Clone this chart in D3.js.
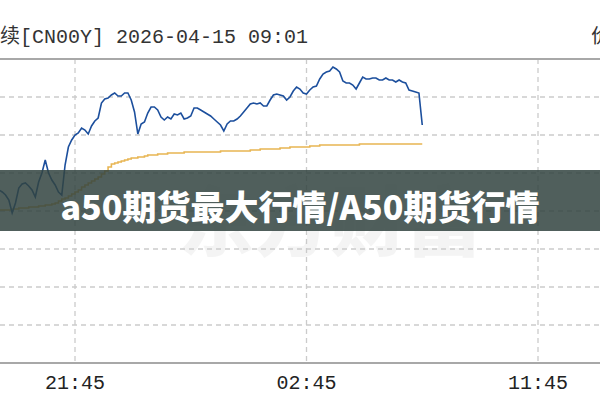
<!DOCTYPE html>
<html>
<head>
<meta charset="utf-8">
<script src="https://cdn.jsdelivr.net/npm/d3@7"></script>
<style>
  html, body { margin: 0; padding: 0; background: #fff; }
  svg { display: block; }
</style>
</head>
<body>
<div id="chart"></div>
<script>
const timeTicks = [23, 93, 163];
const timeLabels = ["21:45", "02:45", "11:45"];

// price line, one sample per index
const priceSeries = [
  14869, 14867, 14864, 14859, 14846, 14856, 14871, 14875, 14876, 14873,
  14869, 14862, 14877, 14886, 14899, 14886, 14879, 14874, 14867, 14864,
  14894, 14912, 14919, 14924, 14926, 14931, 14929, 14925, 14933, 14938,
  14941, 14956, 14960, 14961, 14964, 14966, 14963, 14963, 14966, 14966,
  14959, 14947, 14925, 14935, 14937, 14946, 14952, 14952, 14949, 14942,
  14939, 14942, 14940, 14945, 14944, 14946, 14940, 14941, 14943, 14951,
  14951, 14949, 14947, 14945, 14943, 14940, 14937, 14934, 14928, 14935,
  14938, 14938, 14940, 14943, 14947, 14951, 14955, 14956, 14955, 14956,
  14953, 14953, 14959, 14964, 14965, 14964, 14963, 14959, 14962, 14968,
  14972, 14970, 14966, 14965, 14969, 14972, 14973, 14980, 14985, 14987,
  14988, 14992, 14990, 14987, 14978, 14976, 14976, 14974, 14970, 14976,
  14982, 14980, 14980, 14981, 14981, 14979, 14979, 14981, 14979, 14979,
  14977, 14979, 14977, 14976, 14969, 14968, 14967, 14966, 14934
];

// average price line
const avgSeries = [
  14849, 14849, 14849, 14849, 14850, 14850, 14851, 14851, 14851, 14852,
  14852, 14852, 14853, 14853, 14854, 14854, 14855, 14856, 14858, 14860,
  14861, 14863, 14865, 14867, 14869, 14872, 14874, 14876, 14878, 14880,
  14882, 14885, 14888, 14892, 14895, 14896, 14897, 14898, 14899, 14900,
  14901, 14901, 14902, 14902, 14903, 14904, 14904, 14904, 14905, 14905,
  14905, 14906, 14906, 14906, 14906, 14906, 14907, 14907, 14907, 14907,
  14907, 14907, 14907, 14907, 14907, 14907, 14907, 14908, 14908, 14908,
  14908, 14908, 14908, 14908, 14908, 14908, 14909, 14909, 14909, 14910,
  14910, 14910, 14910, 14910, 14910, 14911, 14911, 14911, 14912, 14912,
  14912, 14912, 14912, 14912, 14913, 14913, 14913, 14914, 14914, 14914,
  14914, 14914, 14914, 14914, 14914, 14914, 14914, 14914, 14914, 14915,
  14915, 14915, 14915, 14915, 14915, 14915, 14915, 14915, 14915, 14915,
  14915, 14915, 14915, 14915, 14915, 14915, 14915, 14915, 14915
];

const priceDomain = [14696, 15000];
const priceGrid = d3.range(14734, 15000, 38);

const titleText = "续[CN00Y] 2026-04-15 09:01";
const bannerText = "a50期货最大行情/A50期货行情";

const width = 600, height = 400;
const plot = { top: 59, bottom: 363, left: 0, right: 600 };

const svg = d3.select("#chart").append("svg")
  .attr("width", width)
  .attr("height", height);

const x = d3.scaleLinear()
  .domain([timeTicks[0], timeTicks[2]])
  .range([75, 538]);

const y = d3.scaleLinear()
  .domain(priceDomain)
  .range([plot.bottom, plot.top]);

svg.append("clipPath").attr("id", "plotclip")
  .append("rect")
  .attr("x", plot.left).attr("y", plot.top)
  .attr("width", plot.right - plot.left)
  .attr("height", plot.bottom - plot.top);

// title
svg.append("text")
  .attr("x", 0)
  .attr("y", 43)
  .attr("font-family", "'Liberation Mono', 'Noto Sans CJK SC', monospace")
  .attr("font-size", 20)
  .attr("fill", "#333")
  .text(titleText);

svg.append("text")
  .attr("x", 591)
  .attr("y", 43)
  .attr("font-family", "'Noto Sans CJK SC'")
  .attr("font-size", 20)
  .attr("fill", "#333")
  .text("价");

// watermark
svg.append("text")
  .attr("x", 330)
  .attr("y", 250)
  .attr("text-anchor", "middle")
  .attr("font-family", "'Noto Sans CJK SC'")
  .attr("font-weight", 900)
  .attr("font-size", 76)
  .attr("fill", "#000")
  .attr("opacity", 0.04)
  .text("东方财富");

// grid
const grid = svg.append("g")
  .attr("stroke", "#cbcbcb")
  .attr("stroke-width", 1.3)
  .attr("stroke-dasharray", "5,4");

grid.selectAll("line.h")
  .data(priceGrid)
  .join("line")
  .attr("class", "h")
  .attr("x1", plot.left).attr("x2", plot.right)
  .attr("y1", d => y(d)).attr("y2", d => y(d));

grid.selectAll("line.v")
  .data(timeTicks)
  .join("line")
  .attr("class", "v")
  .attr("x1", d => x(d)).attr("x2", d => x(d))
  .attr("y1", plot.top).attr("y2", plot.bottom);

// frame lines
svg.append("line")
  .attr("x1", 0).attr("x2", width)
  .attr("y1", plot.top).attr("y2", plot.top)
  .attr("stroke", "#a8a8a8").attr("stroke-width", 2);
svg.append("line")
  .attr("x1", 0).attr("x2", width)
  .attr("y1", plot.bottom).attr("y2", plot.bottom)
  .attr("stroke", "#a8a8a8").attr("stroke-width", 2);

// lines
const lines = svg.append("g").attr("clip-path", "url(#plotclip)");

lines.append("path")
  .datum(avgSeries)
  .attr("fill", "none")
  .attr("stroke", "#e8b552")
  .attr("stroke-width", 1.6)
  .attr("d", d3.line().x((d, i) => x(i)).y(d => y(d)).curve(d3.curveStepAfter));

lines.append("path")
  .datum(priceSeries)
  .attr("fill", "none")
  .attr("stroke", "#1c4f9d")
  .attr("stroke-width", 1.6)
  .attr("d", d3.line().x((d, i) => x(i)).y(d => y(d)));

// x labels
svg.selectAll("text.xl")
  .data(timeTicks)
  .join("text")
  .attr("class", "xl")
  .attr("x", d => x(d))
  .attr("y", 389)
  .attr("text-anchor", "middle")
  .attr("font-family", "'Liberation Mono', monospace")
  .attr("font-size", 20)
  .attr("fill", "#222")
  .text((d, i) => timeLabels[i]);

// banner overlay
svg.append("rect")
  .attr("x", 0).attr("y", 170)
  .attr("width", width).attr("height", 61)
  .attr("fill", "#31433f")
  .attr("opacity", 0.85);

svg.append("text")
  .attr("x", 300)
  .attr("y", 205)
  .attr("text-anchor", "middle")
  .attr("dominant-baseline", "central")
  .attr("font-family", "'Noto Sans CJK SC', 'Noto Sans'")
  .attr("font-weight", 900)
  .attr("font-size", 34)
  .attr("fill", "#fff")
  .text(bannerText);
</script>
</body>
</html>
